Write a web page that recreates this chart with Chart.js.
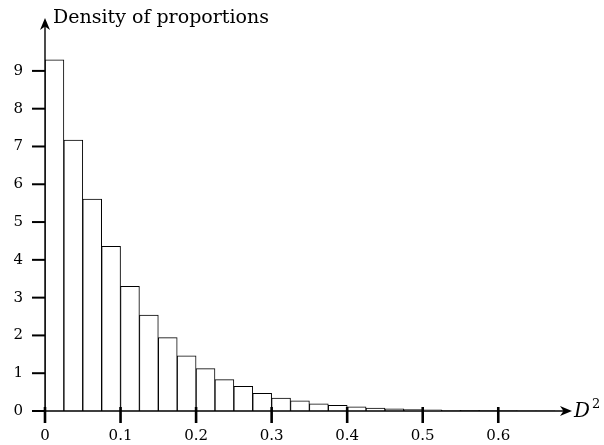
<!DOCTYPE html>
<html>
<head>
<meta charset="utf-8">
<script src="https://cdn.jsdelivr.net/npm/chart.js@4"></script>
<style>
    html, body { margin: 0; padding: 0; background: #fff; }
    canvas { display: block; }
</style>
</head>
<body>
<canvas id="histChart" width="604" height="445"></canvas>
<script>
// Histogram bins (left edge) and density heights
const binStart = [
    0, 0.025, 0.05, 0.075, 0.1, 0.125, 0.15, 0.175, 0.2, 0.225,
    0.25, 0.275, 0.3, 0.325, 0.35, 0.375, 0.4, 0.425, 0.45, 0.475,
    0.5, 0.525, 0.55, 0.575, 0.6, 0.625, 0.65
];
const density = [
    9.29, 7.17, 5.61, 4.36, 3.30, 2.54, 1.94, 1.46, 1.12, 0.83,
    0.65, 0.47, 0.34, 0.27, 0.19, 0.15, 0.11, 0.08, 0.06, 0.04,
    0.03, 0.02, 0.015, 0.01, 0.008, 0.005, 0.003
];
const binWidth = 0.025;
const xTicks = [0, 0.1, 0.2, 0.3, 0.4, 0.5, 0.6];
const yTicks = [0, 1, 2, 3, 4, 5, 6, 7, 8, 9];
const yTitle = 'Density of proportions';

const points = binStart.map((b, i) => ({ x: b + binWidth / 2, y: density[i] }));

// Axes with arrow heads, ticks and labels drawn on the library scales
const axesPlugin = {
    id: 'arrowAxes',
    afterDraw(chart) {
        const { ctx, chartArea, scales: { x, y } } = chart;
        const x0 = x.getPixelForValue(0);
        const y0 = y.getPixelForValue(0);
        ctx.save();
        ctx.strokeStyle = '#000';
        ctx.fillStyle = '#000';

        // axis lines
        ctx.lineWidth = 1.4;
        ctx.beginPath();
        ctx.moveTo(x0 - 13, y0);
        ctx.lineTo(chartArea.right - 5, y0);
        ctx.moveTo(x0, y0 + 12);
        ctx.lineTo(x0, chartArea.top + 5);
        ctx.stroke();

        // arrow heads
        const r = chartArea.right, t = chartArea.top;
        ctx.beginPath();
        ctx.moveTo(r, y0);
        ctx.lineTo(r - 12, y0 - 5);
        ctx.lineTo(r - 8.5, y0);
        ctx.lineTo(r - 12, y0 + 5);
        ctx.closePath();
        ctx.fill();
        ctx.beginPath();
        ctx.moveTo(x0, t);
        ctx.lineTo(x0 - 5, t + 12);
        ctx.lineTo(x0, t + 8.5);
        ctx.lineTo(x0 + 5, t + 12);
        ctx.closePath();
        ctx.fill();

        // y ticks
        ctx.lineWidth = 2;
        ctx.font = '15px "DejaVu Serif"';
        ctx.textAlign = 'right';
        ctx.textBaseline = 'middle';
        yTicks.forEach(v => {
            const py = y.getPixelForValue(v);
            ctx.beginPath();
            ctx.moveTo(x0 - 13, py);
            ctx.lineTo(x0, py);
            ctx.stroke();
            ctx.fillText(String(v), x0 - 22, py);
        });

        // x ticks
        ctx.lineWidth = 2.6;
        ctx.textAlign = 'center';
        xTicks.forEach(v => {
            const px = x.getPixelForValue(v);
            ctx.beginPath();
            ctx.moveTo(px, y0 - 4);
            ctx.lineTo(px, y0 + 12);
            ctx.stroke();
            ctx.fillText(String(v), px, y0 + 25);
        });

        // axis titles
        ctx.textAlign = 'left';
        ctx.textBaseline = 'alphabetic';
        ctx.font = '19px "DejaVu Serif"';
        ctx.fillText(yTitle, x0 + 8, 23);
        ctx.font = 'italic 20px "DejaVu Serif"';
        ctx.fillText('D', r + 2, y0 + 6);
        ctx.font = '13px "DejaVu Serif"';
        ctx.fillText('2', r + 20, y0 - 3);
        ctx.restore();
    }
};

const ctx = document.getElementById('histChart').getContext('2d');
const histChart = new Chart(ctx, {
    type: 'bar',
    data: {
        datasets: [{
            data: points,
            backgroundColor: '#ffffff',
            borderColor: '#000000',
            borderWidth: 1,
            borderSkipped: 'bottom',
            barPercentage: 1,
            categoryPercentage: 1,
            grouped: false
        }]
    },
    options: {
        responsive: false,
        animation: false,
        layout: {
            padding: { left: 45, right: 32, top: 18, bottom: 34 }
        },
        plugins: {
            legend: { display: false },
            tooltip: { enabled: false }
        },
        scales: {
            x: {
                type: 'linear',
                display: false,
                offset: false,
                min: 0,
                max: 0.6976,
                ticks: { stepSize: 0.1 }
            },
            y: {
                type: 'linear',
                display: false,
                min: 0,
                max: 10.4,
                ticks: { stepSize: 1 }
            }
        }
    },
    plugins: [axesPlugin]
});
</script>
</body>
</html>
